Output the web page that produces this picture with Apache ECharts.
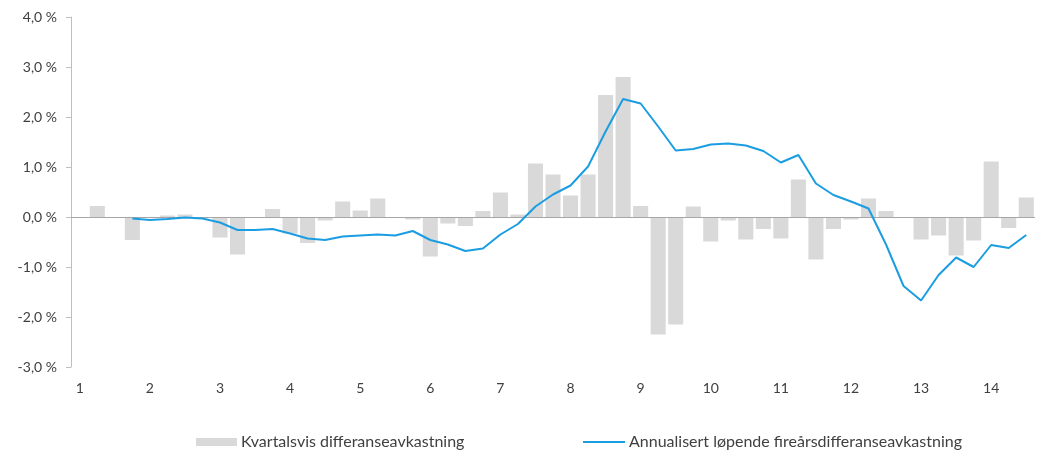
<!DOCTYPE html>
<html>
<head>
<meta charset="utf-8">
<script src="https://cdn.jsdelivr.net/npm/echarts@6/dist/echarts.min.js"></script>
<style>
html,body{margin:0;padding:0;background:#fff;}
#chart{width:1039px;height:450px;}
</style>
</head>
<body>
<div id="chart"></div>
<script>
var categories = [];
for (var i = 0; i < 55; i++) { categories.push(i % 4 === 0 ? String(i / 4 + 1) : ''); }

var quarterlyExcess = [null, 0.22, null, -0.46, null, 0.03, 0.05, null, -0.41, -0.75,
  -0.02, 0.16, -0.33, -0.52, -0.07, 0.31, 0.13, 0.37, -0.02, -0.05,
  -0.79, -0.13, -0.18, 0.12, 0.49, 0.05, 1.07, 0.85, 0.43, 0.85,
  2.44, 2.80, 0.22, -2.35, -2.15, 0.21, -0.49, -0.07, -0.45, -0.24,
  -0.43, 0.75, -0.85, -0.24, -0.05, 0.37, 0.12, null, -0.45, -0.37,
  -0.77, -0.47, 1.11, -0.22, 0.39];

var rollingFourYear = [null, null, null, -0.03, -0.06, -0.04, -0.01, -0.03, -0.11, -0.26,
  -0.26, -0.24, -0.33, -0.43, -0.46, -0.39, -0.37, -0.35, -0.37, -0.28,
  -0.46, -0.55, -0.68, -0.63, -0.35, -0.14, 0.21, 0.45, 0.63, 1.01,
  1.71, 2.36, 2.27, 1.81, 1.33, 1.36, 1.45, 1.47, 1.43, 1.32,
  1.09, 1.24, 0.67, 0.44, 0.31, 0.17, -0.55, -1.38, -1.67, -1.16,
  -0.81, -1.00, -0.56, -0.62, -0.36];

var yTicks = { min: -3, max: 4, interval: 1 };
var seriesNames = ['Kvartalsvis differanseavkastning', 'Annualisert løpende fireårsdifferanseavkastning'];

var FONT = 'Lato';
var chart = echarts.init(document.getElementById('chart'));
chart.setOption({
  animation: false,
  textStyle: { fontFamily: FONT },
  grid: { left: 71, right: 4, top: 17, bottom: 83 },
  legend: [{
    left: 191, top: 429, itemWidth: 41, itemHeight: 8, itemGap: 5,
    data: [{ name: seriesNames[0], icon: 'rect' }],
    textStyle: { fontFamily: FONT, fontSize: 16, color: '#404040', padding: [0, 0, 0, -1] }
  }, {
    left: 578, top: 429, itemWidth: 42, itemHeight: 2,
    data: [{ name: seriesNames[1], icon: 'rect' }],
    textStyle: { fontFamily: FONT, fontSize: 16, color: '#404040', padding: [0, 0, 0, -1] }
  }],
  xAxis: {
    type: 'category',
    data: categories,
    boundaryGap: true,
    axisLine: { show: false, onZero: false },
    axisTick: { show: false },
    axisLabel: { interval: 0, margin: 14, fontSize: 14, color: '#404040', fontFamily: FONT },
    splitLine: { show: false }
  },
  yAxis: {
    type: 'value',
    min: yTicks.min, max: yTicks.max, interval: yTicks.interval,
    axisLine: { show: true, lineStyle: { color: '#bfbfbf', width: 1 } },
    axisTick: { show: true, length: 5, lineStyle: { color: '#bfbfbf' } },
    splitLine: { show: false },
    axisLabel: {
      margin: 14, fontSize: 14, color: '#404040', fontFamily: FONT,
      formatter: function (v) { return v.toFixed(1).replace('.', ',') + ' %'; }
    }
  },
  series: [{
    name: seriesNames[0],
    type: 'bar',
    data: quarterlyExcess,
    barCategoryGap: '14%',
    itemStyle: { color: '#d9d9d9' },
    markLine: {
      silent: true, symbol: 'none', label: { show: false },
      lineStyle: { color: '#a6a6a6', width: 1, type: 'solid' },
      data: [{ yAxis: 0 }]
    }
  }, {
    name: seriesNames[1],
    type: 'line',
    data: rollingFourYear,
    symbol: 'none',
    z: 5,
    lineStyle: { color: '#1b9de2', width: 2 },
    itemStyle: { color: '#1b9de2' }
  }]
});
</script>
</body>
</html>
